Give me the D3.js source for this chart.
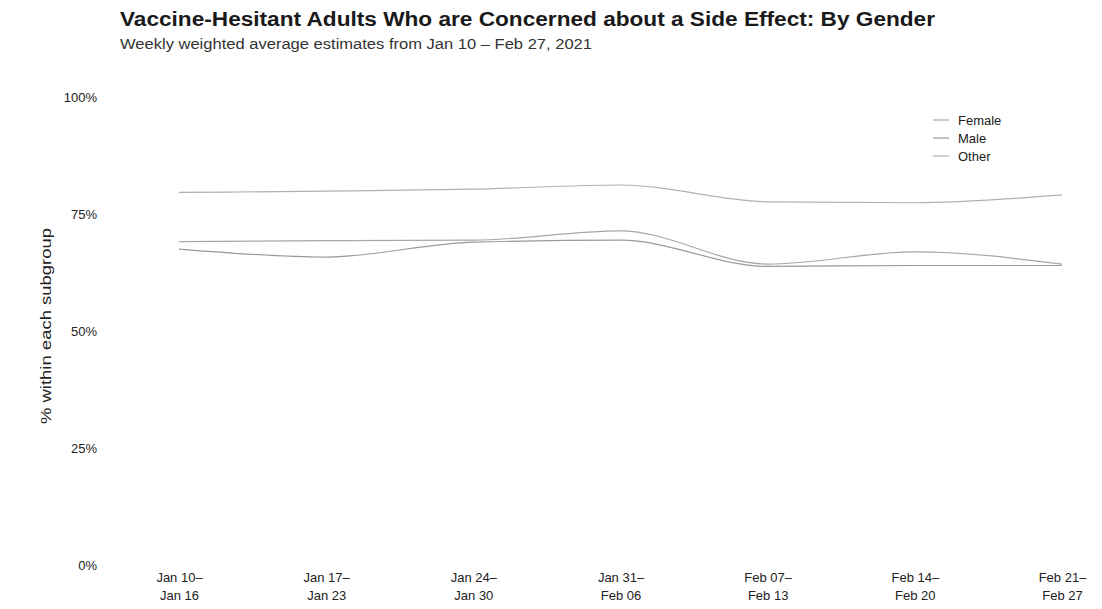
<!DOCTYPE html>
<html>
<head>
<meta charset="utf-8">
<script src="https://cdn.jsdelivr.net/npm/d3@7"></script>
<style>
  html, body { margin: 0; padding: 0; background: #fff; }
  svg text { font-family: "Liberation Sans", Arial, sans-serif; fill: #1a1a1a; }
</style>
</head>
<body>
<svg id="chart" width="1102" height="609"></svg>
<script>
const weeksTop = ["Jan 10–", "Jan 17–", "Jan 24–", "Jan 31–", "Feb 07–", "Feb 14–", "Feb 21–"];
const weeksBottom = ["Jan 16", "Jan 23", "Jan 30", "Feb 06", "Feb 13", "Feb 20", "Feb 27"];
const female = [69.1, 69.3, 69.4, 71.4, 64.3, 66.9, 64.3];
const male   = [67.5, 65.8, 69.0, 69.4, 63.8, 64.0, 64.0];
const other  = [79.6, 79.9, 80.3, 81.2, 77.6, 77.4, 79.1];
const seriesNames = ["Female", "Male", "Other"];
const yTicks = [0, 25, 50, 75, 100];
const titleText = "Vaccine-Hesitant Adults Who are Concerned about a Side Effect: By Gender";
const subtitleText = "Weekly weighted average estimates from Jan 10 – Feb 27, 2021";
const yTitle = "% within each subgroup";

const svg = d3.select("#chart");
const colors = ["#a8a8a8", "#9a9a9a", "#b0b0b0"];
const seriesData = [female, male, other];

const x = d3.scalePoint().domain(d3.range(weeksTop.length)).range([179, 1062]);
const y = d3.scaleLinear().domain([0, 100]).range([565, 97]);

svg.append("text").attr("x", 120).attr("y", 26)
  .attr("textLength", 815).attr("lengthAdjust", "spacingAndGlyphs")
  .style("font-size", "20px").style("font-weight", "bold").text(titleText);
svg.append("text").attr("x", 120).attr("y", 49)
  .attr("textLength", 472).attr("lengthAdjust", "spacingAndGlyphs")
  .style("font-size", "14px").style("fill", "#333").text(subtitleText);

// y axis
const yAxis = d3.axisLeft(y).tickValues(yTicks).tickFormat(d => d + "%").tickSize(0).tickPadding(0);
const yg = svg.append("g").attr("transform", "translate(97,0)").call(yAxis);
yg.select(".domain").remove();
yg.selectAll("text").style("font-size", "13px").style("fill", "#222")
  .attr("font-family", null).attr("dy", "0.35em");

svg.append("text")
  .attr("transform", "translate(51,326) rotate(-90)")
  .attr("text-anchor", "middle")
  .attr("textLength", 196).attr("lengthAdjust", "spacingAndGlyphs")
  .style("font-size", "15px").style("fill", "#222")
  .text(yTitle);

// x axis
const xAxis = d3.axisBottom(x).tickSize(0).tickFormat(() => "");
const xg = svg.append("g").attr("transform", "translate(0,566)").call(xAxis);
xg.select(".domain").remove();
xg.selectAll(".tick").each(function(d) {
  const t = d3.select(this).append("text")
    .attr("text-anchor", "middle")
    .style("font-size", "13px").style("fill", "#222");
  t.append("tspan").attr("x", 0).attr("y", 16).text(weeksTop[d]);
  t.append("tspan").attr("x", 0).attr("y", 34).text(weeksBottom[d]);
});

// lines
const line = d3.line()
  .x((d, i) => x(i))
  .y(d => y(d))
  .curve(d3.curveMonotoneX);

seriesData.forEach((s, k) => {
  svg.append("path")
    .datum(s)
    .attr("fill", "none")
    .attr("stroke", colors[k])
    .attr("stroke-width", 1.2)
    .attr("d", line);
});

// legend
const lg = svg.append("g").attr("transform", "translate(933,120)");
seriesNames.forEach((n, k) => {
  const row = lg.append("g").attr("transform", `translate(0,${k * 18})`);
  row.append("line").attr("x1", 0).attr("x2", 16).attr("y1", 0).attr("y2", 0)
    .attr("stroke", colors[k]).attr("stroke-width", 1.2);
  row.append("text").attr("x", 25).attr("y", 0).attr("dy", "0.35em")
    .style("font-size", "13px").style("fill", "#222").text(n);
});
</script>
</body>
</html>
